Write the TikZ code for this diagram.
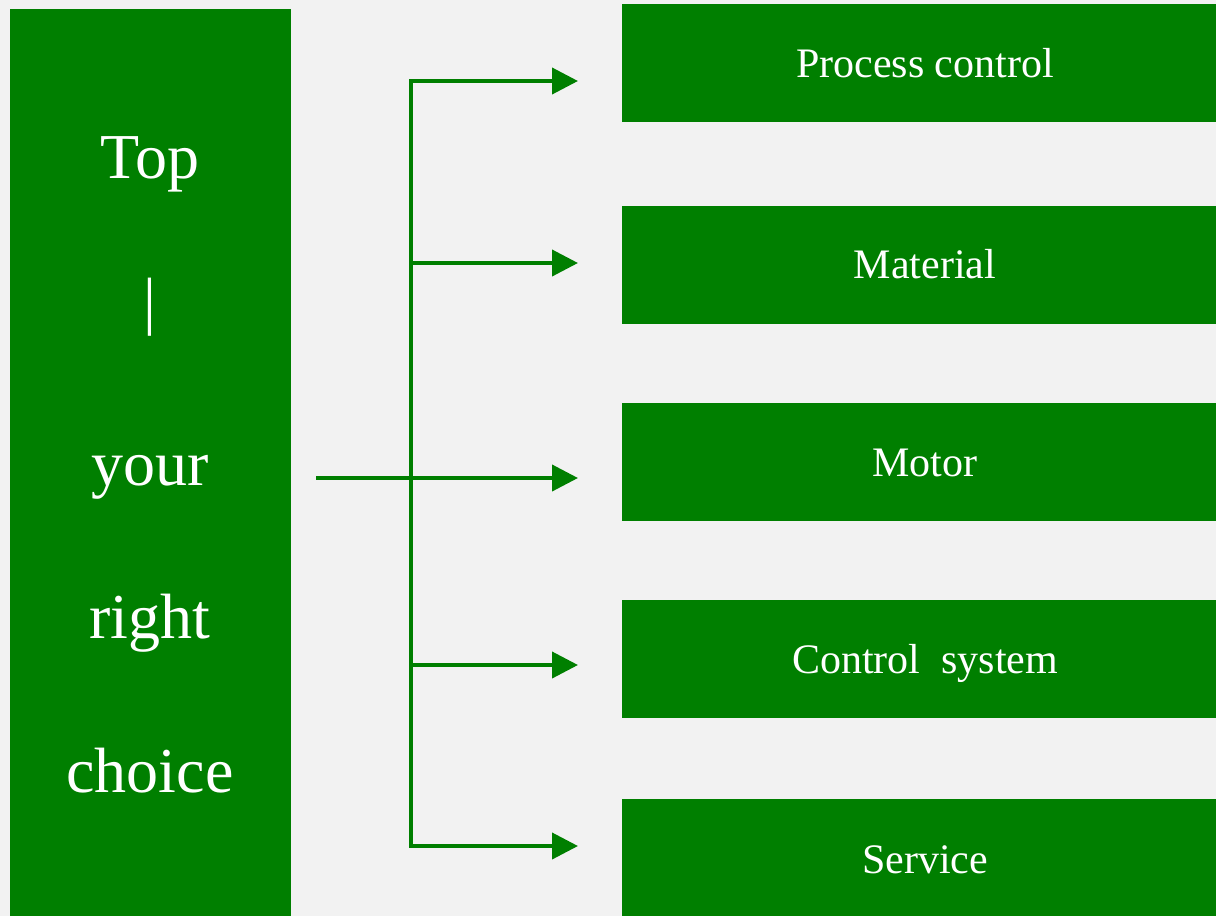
\documentclass[tikz,border=0pt]{standalone}
\usepackage{fontspec}
\setmainfont{Liberation Serif}
\usetikzlibrary{arrows.meta}
\definecolor{bggray}{HTML}{F2F2F2}
\definecolor{leafgreen}{HTML}{007F00}
\tikzset{
  greenbox/.style={fill=leafgreen, draw=none, inner sep=0pt},
  bigword/.style={text=white, inner sep=0pt, anchor=base, font=\fontsize{64}{70}\selectfont},
  itembox/.style={greenbox, minimum width=606pt, minimum height=118pt},
  itemtext/.style={text=white, inner sep=0pt, anchor=base, font=\fontsize{42}{48}\selectfont},
  link/.style={draw=leafgreen, line width=4pt},
  arrowlink/.style={link, -{Triangle[length=26pt,width=26pt]}}
}
\begin{document}
\begin{tikzpicture}[x=1pt,y=-1pt]
\fill[bggray] (0,0) rectangle (1216,916);
\useasboundingbox (0,0) rectangle (1216,916);
% left column
\node[greenbox, minimum width=281pt, minimum height=907pt, anchor=north west] (left) at (10,9) {};
\node[bigword] (w1) at (150,178) {Top};
\node[bigword] (w2) at (150,322) {|};
\node[bigword] (w3) at (150,485) {your};
\node[bigword] (w4) at (150,638) {right};
\node[bigword] (w5) at (150,792) {choice};
% right boxes
\node[itembox] (b1) at (925,63) {};
\node[itembox] (b2) at (925,265) {};
\node[itembox] (b3) at (925,462) {};
\node[itembox] (b4) at (925,659) {};
\node[itembox] (b5) at (925,858) {};
\node[itemtext] (l1) at (925,77) {Process control};
\node[itemtext] (l2) at (925,278) {Material};
\node[itemtext] (l3) at (925,476) {Motor};
\node[itemtext] (l4) at (925,673) {Control\ \ system};
\node[itemtext] (l5) at (925,873) {Service};
% connectors
\coordinate (start) at (316,478);
\coordinate (j1) at (411,81);
\coordinate (j2) at (411,263);
\coordinate (j3) at (411,478);
\coordinate (j4) at (411,665);
\coordinate (j5) at (411,846);
\coordinate (t1) at (578,81);
\coordinate (t2) at (578,263);
\coordinate (t3) at (578,478);
\coordinate (t4) at (578,665);
\coordinate (t5) at (578,846);
\draw[link] (start) -- (j3);
\draw[link] ([yshift=-2pt]j1) -- ([yshift=2pt]j5);
\draw[arrowlink] ([xshift=-2pt]j1) -- (t1);
\draw[arrowlink] (j2) -- (t2);
\draw[arrowlink] (j3) -- (t3);
\draw[arrowlink] (j4) -- (t4);
\draw[arrowlink] ([xshift=-2pt]j5) -- (t5);
\end{tikzpicture}
\end{document}
